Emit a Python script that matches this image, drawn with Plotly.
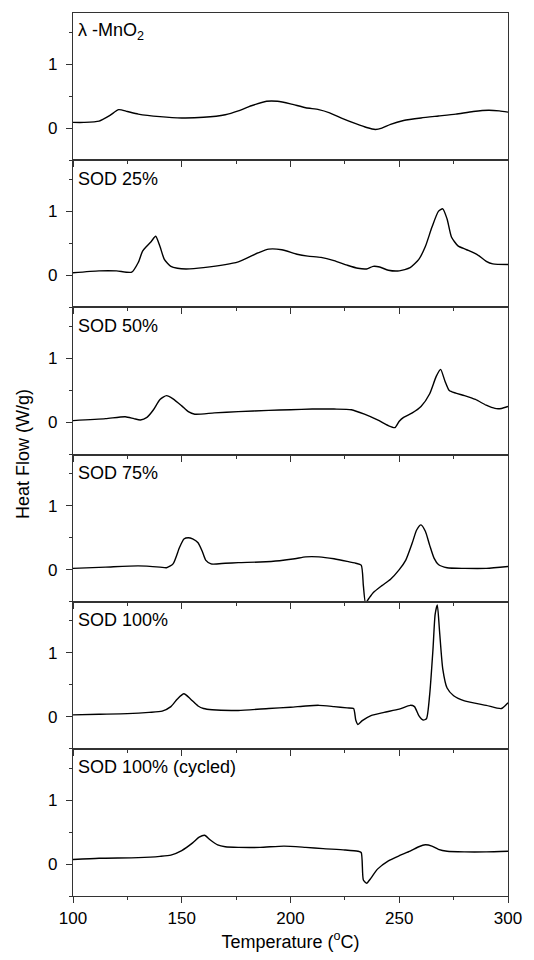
import plotly.graph_objects as go
from plotly.subplots import make_subplots

labels = ["λ -MnO<sub>2</sub>", "SOD 25%", "SOD 50%", "SOD 75%", "SOD 100%", "SOD 100% (cycled)"]

t_mno2 = [100, 105, 112, 117, 121, 125, 130, 140, 150, 160, 170, 176, 182, 189, 194, 200, 207, 213, 218, 224, 230, 235, 239, 242, 246, 252, 260, 268, 276, 284, 291, 296, 300]
v_mno2 = [0.09, 0.09, 0.11, 0.2, 0.29, 0.26, 0.22, 0.18, 0.16, 0.17, 0.21, 0.27, 0.35, 0.42, 0.42, 0.38, 0.32, 0.29, 0.24, 0.15, 0.07, 0.01, -0.02, 0.0, 0.06, 0.12, 0.16, 0.19, 0.22, 0.26, 0.28, 0.27, 0.25]

t_25 = [100, 112, 120, 127, 130, 132, 134, 136, 138, 140, 142, 145, 148, 152, 160, 176, 185, 190, 196, 203, 208, 214, 220, 226, 231, 235, 238, 241, 245, 250, 255, 259, 262, 265, 268, 270, 272, 274, 277, 281, 286, 290, 293, 300]
v_25 = [0.04, 0.07, 0.07, 0.05, 0.2, 0.38, 0.46, 0.53, 0.61, 0.45, 0.25, 0.14, 0.11, 0.1, 0.12, 0.21, 0.35, 0.41, 0.4, 0.33, 0.3, 0.28, 0.23, 0.16, 0.11, 0.1, 0.14, 0.13, 0.08, 0.07, 0.12, 0.25, 0.45, 0.75, 1.0, 1.04, 0.88, 0.6, 0.46, 0.4, 0.32, 0.22, 0.18, 0.17]

t_50 = [100, 115, 124, 128, 131, 134, 137, 140, 143, 146, 150, 153, 156, 165, 176, 190, 200, 210, 220, 228, 234, 240, 245, 248, 250, 252, 256, 260, 264, 267, 269, 271, 273, 276, 280, 285, 290, 294, 297, 300]
v_50 = [0.03, 0.06, 0.09, 0.06, 0.04, 0.08, 0.2, 0.36, 0.42, 0.37, 0.26, 0.17, 0.13, 0.15, 0.17, 0.19, 0.2, 0.21, 0.21, 0.2, 0.13, 0.04, -0.05, -0.08, 0.02, 0.08, 0.15, 0.25, 0.45, 0.72, 0.83, 0.65, 0.5, 0.46, 0.42, 0.36, 0.27, 0.22, 0.22, 0.25]

t_75 = [100, 115, 130, 140, 143, 146, 149, 151, 153, 155, 157.5, 159.5, 161, 163.5, 170, 176, 186, 195, 202, 207, 213, 220, 226, 230, 232.5, 233.5, 234.5, 236, 238, 242, 246, 250, 253, 256, 258, 260, 262, 264, 266, 268, 272, 280, 290, 300]
v_75 = [0.02, 0.04, 0.06, 0.04, 0.03, 0.09, 0.35, 0.48, 0.5, 0.48, 0.42, 0.28, 0.15, 0.09, 0.1, 0.11, 0.12, 0.14, 0.17, 0.2, 0.2, 0.17, 0.13, 0.1, 0.07, -0.25, -0.52, -0.45, -0.36, -0.25, -0.15, 0.0, 0.15, 0.42, 0.62, 0.7, 0.6, 0.38, 0.18, 0.08, 0.03, 0.02, 0.02, 0.05]

t_100 = [100, 112, 125, 135, 141, 145, 148, 151, 154, 157.5, 160, 164, 176, 190, 200, 207, 213, 220, 226, 229, 230, 231, 233, 237, 243, 250, 255, 257, 259, 261, 262.5, 264, 265.5, 266.5, 267.5, 268.5, 270, 272, 275, 280, 290, 297, 300]
v_100 = [0.03, 0.04, 0.05, 0.07, 0.09, 0.16, 0.28, 0.36, 0.28, 0.17, 0.13, 0.11, 0.1, 0.13, 0.15, 0.17, 0.18, 0.16, 0.14, 0.13, -0.05, -0.12, -0.06, 0.02, 0.07, 0.12, 0.18, 0.16, 0.02, -0.05, -0.03, 0.35, 1.05, 1.6, 1.75, 1.35, 0.75, 0.45, 0.33, 0.25, 0.18, 0.13, 0.22]

t_cyc = [100, 112, 130, 140, 145, 150, 155, 158, 160.5, 163, 166.5, 170, 176, 186, 197, 207, 215, 225, 231, 232.5, 233.5, 235, 237, 240, 245, 250, 255, 259, 262, 265, 268, 272, 280, 290, 300]
v_cyc = [0.07, 0.09, 0.1, 0.12, 0.14, 0.21, 0.33, 0.42, 0.45, 0.38, 0.3, 0.27, 0.26, 0.26, 0.28, 0.26, 0.24, 0.22, 0.2, 0.18, -0.25, -0.3, -0.22, -0.08, 0.05, 0.13, 0.2, 0.27, 0.3, 0.28, 0.23, 0.2, 0.19, 0.19, 0.2]

series_t = [t_mno2, t_25, t_50, t_75, t_100, t_cyc]
series_v = [v_mno2, v_25, v_50, v_75, v_100, v_cyc]

x_ticks = [100, 150, 200, 250, 300]
y_ticks = [0, 1]
y_minor = [-0.5, 0.5, 1.5]

FONT = "Liberation Sans, Arial, sans-serif"
AX = "#333333"

fig = make_subplots(rows=6, cols=1, shared_xaxes=True, vertical_spacing=0)

for i, (t, v) in enumerate(zip(series_t, series_v)):
    fig.add_trace(go.Scatter(x=t, y=v, mode="lines",
                             line=dict(color="black", width=1.4, shape="spline", smoothing=0.6),
                             showlegend=False, hoverinfo="skip"), row=i + 1, col=1)
    fig.update_yaxes(range=[-0.5, 1.8], tickvals=y_ticks, ticktext=[str(y) for y in y_ticks],
                     ticks="outside", ticklen=6, tickwidth=1, tickcolor=AX,
                     ticklabelstandoff=5,
                     minor=dict(tickvals=y_minor, ticks="outside", ticklen=3, tickcolor=AX),
                     showline=True, linecolor=AX, linewidth=1.2, mirror=True,
                     showgrid=False, zeroline=False, row=i + 1, col=1,
                     tickfont=dict(size=17, color="black", family=FONT))
    fig.update_xaxes(range=[100, 300], tickvals=x_ticks,
                     ticks="outside", ticklen=6, tickwidth=1, tickcolor=AX,
                     minor=dict(dtick=25, tick0=100, ticks="outside", ticklen=3, tickcolor=AX),
                     showline=True, linecolor=AX, linewidth=1.2, mirror=True,
                     showgrid=False, zeroline=False, row=i + 1, col=1,
                     showticklabels=(i == 5),
                     tickfont=dict(size=17, color="black", family=FONT))
    yref = "y domain" if i == 0 else f"y{i + 1} domain"
    xref = "x domain" if i == 0 else f"x{i + 1} domain"
    fig.add_annotation(x=0.008, y=0.875, xref=xref, yref=yref, text=labels[i],
                       showarrow=False, xanchor="left", yanchor="middle",
                       font=dict(size=18, color="black", family=FONT))

fig.update_xaxes(title_text="Temperature (<sup>o</sup>C)", title_standoff=8,
                 title_font=dict(size=18, color="black", family=FONT), row=6, col=1)

fig.add_annotation(x=-0.116, y=0.5, xref="x domain", yref="paper", text="Heat Flow (W/g)",
                   showarrow=False, textangle=-90, xanchor="center", yanchor="middle",
                   font=dict(size=18, color="black", family=FONT))

fig.update_layout(width=534, height=960, margin=dict(l=73, r=18, t=13, b=59),
                  plot_bgcolor="white", paper_bgcolor="white",
                  font=dict(family=FONT, color="black"))

fig.write_html("out.html", config={"displayModeBar": False},
               post_script="document.body.style.margin='0';document.body.style.overflow='hidden';")
